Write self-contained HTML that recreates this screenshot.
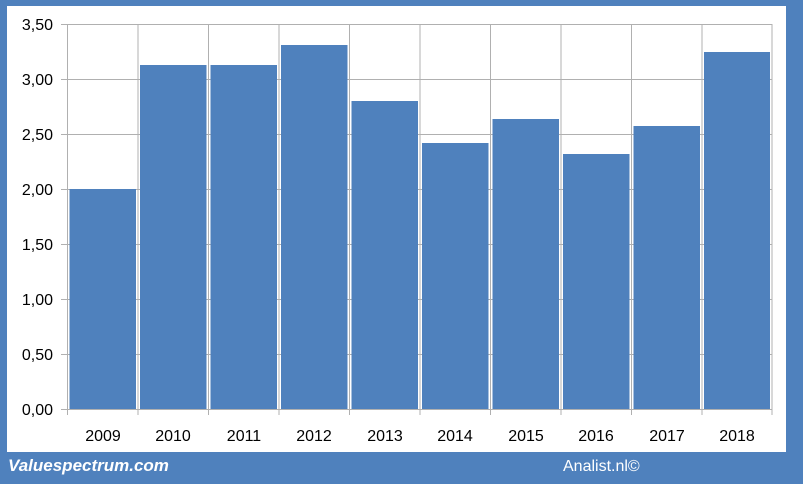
<!DOCTYPE html>
<html><head><style>
body{margin:0;width:803px;height:479px;background:#4f81bd;overflow:hidden;font-family:"Liberation Sans",sans-serif}
</style></head><body>
<svg width="803" height="479" xmlns="http://www.w3.org/2000/svg">
<rect x="0" y="0" width="803" height="479" fill="#4f81bd"/>
<rect x="7" y="6" width="779" height="446" fill="#fff"/>
<g stroke="#b0b0b0" stroke-width="1">
<line x1="61" y1="24.5" x2="772" y2="24.5"/>
<line x1="61" y1="79.5" x2="772" y2="79.5"/>
<line x1="61" y1="134.5" x2="772" y2="134.5"/>
<line x1="61" y1="189.5" x2="772" y2="189.5"/>
<line x1="61" y1="244.5" x2="772" y2="244.5"/>
<line x1="61" y1="299.5" x2="772" y2="299.5"/>
<line x1="61" y1="354.5" x2="772" y2="354.5"/>
<line x1="61" y1="409.5" x2="772" y2="409.5"/>
<line x1="67.5" y1="24" x2="67.5" y2="415"/>
<line x1="138" y1="24" x2="138" y2="415"/>
<line x1="208.5" y1="24" x2="208.5" y2="415"/>
<line x1="279" y1="24" x2="279" y2="415"/>
<line x1="349.5" y1="24" x2="349.5" y2="415"/>
<line x1="420" y1="24" x2="420" y2="415"/>
<line x1="490.5" y1="24" x2="490.5" y2="415"/>
<line x1="561" y1="24" x2="561" y2="415"/>
<line x1="631.5" y1="24" x2="631.5" y2="415"/>
<line x1="702" y1="24" x2="702" y2="415"/>
<line x1="772" y1="24" x2="772" y2="415"/>
</g>
<g fill="#4f81bd">
<rect x="69.5" y="189" width="66.5" height="220"/>
<rect x="140" y="65" width="66.5" height="344"/>
<rect x="210.5" y="65" width="66.5" height="344"/>
<rect x="281" y="45" width="66.5" height="364"/>
<rect x="351.5" y="101" width="66.5" height="308"/>
<rect x="422" y="143" width="66.5" height="266"/>
<rect x="492.5" y="119" width="66.5" height="290"/>
<rect x="563" y="154" width="66.5" height="255"/>
<rect x="633.5" y="126" width="66.5" height="283"/>
<rect x="704" y="52" width="66" height="357"/>
</g>
<g font-family="Liberation Sans, sans-serif" font-size="16" fill="#000" text-anchor="end">
<text x="53" y="30">3,50</text>
<text x="53" y="85">3,00</text>
<text x="53" y="140">2,50</text>
<text x="53" y="195">2,00</text>
<text x="53" y="250">1,50</text>
<text x="53" y="305">1,00</text>
<text x="53" y="360">0,50</text>
<text x="53" y="415">0,00</text>
</g>
<g font-family="Liberation Sans, sans-serif" font-size="16" fill="#000" text-anchor="middle">
<text x="103" y="441">2009</text>
<text x="173" y="441">2010</text>
<text x="244" y="441">2011</text>
<text x="314" y="441">2012</text>
<text x="385" y="441">2013</text>
<text x="455" y="441">2014</text>
<text x="526" y="441">2015</text>
<text x="596" y="441">2016</text>
<text x="667" y="441">2017</text>
<text x="737" y="441">2018</text>
</g>
<text x="8" y="471" font-family="Liberation Sans, sans-serif" font-size="17" font-weight="bold" font-style="italic" fill="#fff">Valuespectrum.com</text>
<text x="563" y="471" font-family="Liberation Sans, sans-serif" font-size="16" fill="#fff">Analist.nl©</text>
</svg>
</body></html>
